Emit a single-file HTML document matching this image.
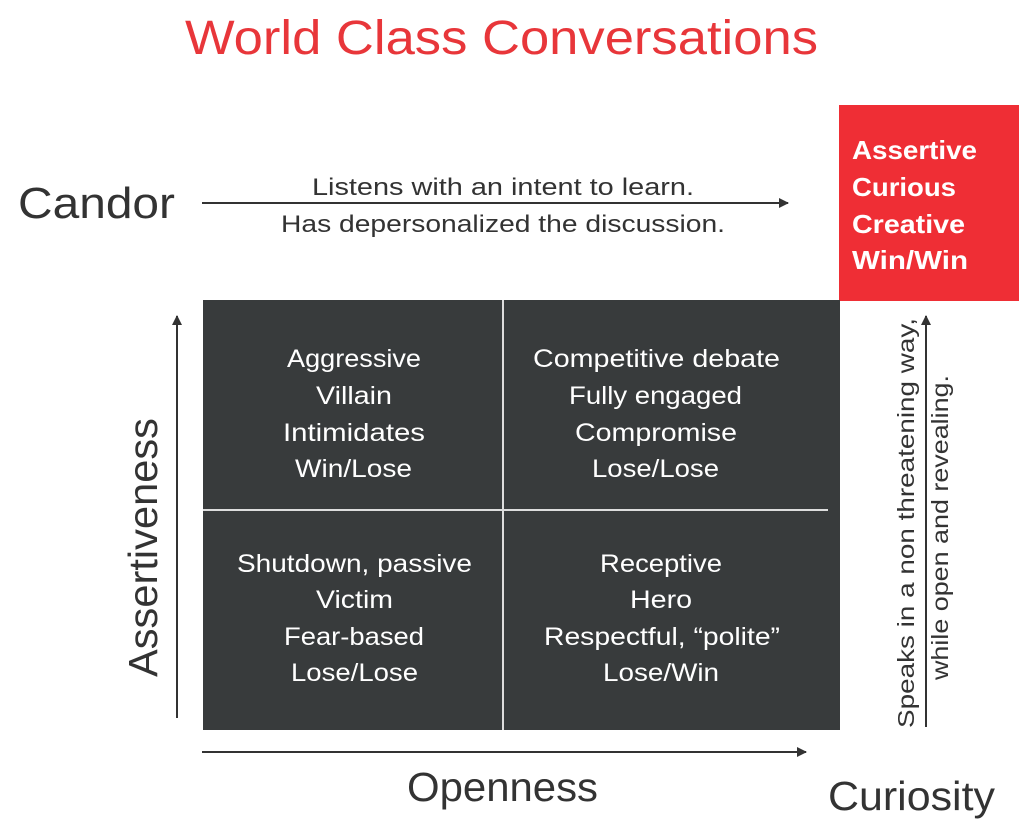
<!DOCTYPE html>
<html><head><style>
body{margin:0;background:#fff;}
svg{display:block;font-family:"Liberation Sans",sans-serif;}
</style></head><body>
<svg width="1024" height="828" viewBox="0 0 1024 828">
<defs><marker id="a" markerWidth="10" markerHeight="10" refX="9" refY="5" orient="auto" markerUnits="userSpaceOnUse"><path d="M0,0 L10,5 L0,10 z" fill="#333"/></marker></defs>
<g lengthAdjust="spacingAndGlyphs">
<text x="185" y="54" font-size="48" fill="#e8363a" textLength="633" lengthAdjust="spacingAndGlyphs">World Class Conversations</text>
<text x="18" y="218" font-size="44" fill="#333" textLength="157" lengthAdjust="spacingAndGlyphs">Candor</text>
<line x1="202" y1="203" x2="788" y2="203" stroke="#333" stroke-width="2" marker-end="url(#a)"/>
<text x="312" y="195" font-size="24" fill="#333" textLength="382" lengthAdjust="spacingAndGlyphs">Listens with an intent to learn.</text>
<text x="281" y="232" font-size="24" fill="#333" textLength="444" lengthAdjust="spacingAndGlyphs">Has depersonalized the discussion.</text>
<rect x="839" y="105" width="180" height="196" fill="#ef2e35"/>
<g font-size="26" font-weight="bold" fill="#fff">
<text x="852" y="159" textLength="125" lengthAdjust="spacingAndGlyphs">Assertive</text><text x="852" y="196" textLength="104" lengthAdjust="spacingAndGlyphs">Curious</text><text x="852" y="233" textLength="113" lengthAdjust="spacingAndGlyphs">Creative</text><text x="852" y="269" textLength="116" lengthAdjust="spacingAndGlyphs">Win/Win</text></g>
<rect x="203" y="300" width="637" height="430" fill="#383b3c"/>
<line x1="503" y1="300" x2="503" y2="730" stroke="#ddd" stroke-width="2"/>
<line x1="203" y1="510" x2="828" y2="510" stroke="#ddd" stroke-width="2"/>
<g font-size="25" fill="#fff">
<text x="287" y="367" textLength="134" lengthAdjust="spacingAndGlyphs">Aggressive</text><text x="316" y="404" textLength="76" lengthAdjust="spacingAndGlyphs">Villain</text><text x="283" y="441" textLength="142" lengthAdjust="spacingAndGlyphs">Intimidates</text><text x="295" y="477" textLength="117" lengthAdjust="spacingAndGlyphs">Win/Lose</text>
<text x="533" y="367" textLength="247" lengthAdjust="spacingAndGlyphs">Competitive debate</text><text x="569" y="404" textLength="173" lengthAdjust="spacingAndGlyphs">Fully engaged</text><text x="575" y="441" textLength="162" lengthAdjust="spacingAndGlyphs">Compromise</text><text x="592" y="477" textLength="127" lengthAdjust="spacingAndGlyphs">Lose/Lose</text>
<text x="237" y="572" textLength="235" lengthAdjust="spacingAndGlyphs">Shutdown, passive</text><text x="316" y="608" textLength="77" lengthAdjust="spacingAndGlyphs">Victim</text><text x="284" y="645" textLength="140" lengthAdjust="spacingAndGlyphs">Fear-based</text><text x="291" y="681" textLength="127" lengthAdjust="spacingAndGlyphs">Lose/Lose</text>
<text x="600" y="572" textLength="122" lengthAdjust="spacingAndGlyphs">Receptive</text><text x="630" y="608" textLength="62" lengthAdjust="spacingAndGlyphs">Hero</text><text x="544" y="645" textLength="236" lengthAdjust="spacingAndGlyphs">Respectful, “polite”</text><text x="603" y="681" textLength="116" lengthAdjust="spacingAndGlyphs">Lose/Win</text>
</g>
<line x1="177" y1="718" x2="177" y2="316" stroke="#333" stroke-width="2" marker-end="url(#a)"/>
<text transform="translate(157,677) rotate(-90)" font-size="41" fill="#333" textLength="259" lengthAdjust="spacingAndGlyphs">Assertiveness</text>
<line x1="202" y1="752" x2="806" y2="752" stroke="#333" stroke-width="2" marker-end="url(#a)"/>
<text x="407" y="801" font-size="41" fill="#333" textLength="191" lengthAdjust="spacingAndGlyphs">Openness</text>
<text x="828" y="810" font-size="41" fill="#333" textLength="167" lengthAdjust="spacingAndGlyphs">Curiosity</text>
<line x1="926" y1="727" x2="926" y2="316" stroke="#333" stroke-width="2" marker-end="url(#a)"/>
<text transform="translate(914,728) rotate(-90)" font-size="23" fill="#333" textLength="410" lengthAdjust="spacingAndGlyphs">Speaks in a non threatening way,</text>
<text transform="translate(948,680) rotate(-90)" font-size="23" fill="#333" textLength="305" lengthAdjust="spacingAndGlyphs">while open and revealing.</text>
</g>
</svg>
</body></html>
